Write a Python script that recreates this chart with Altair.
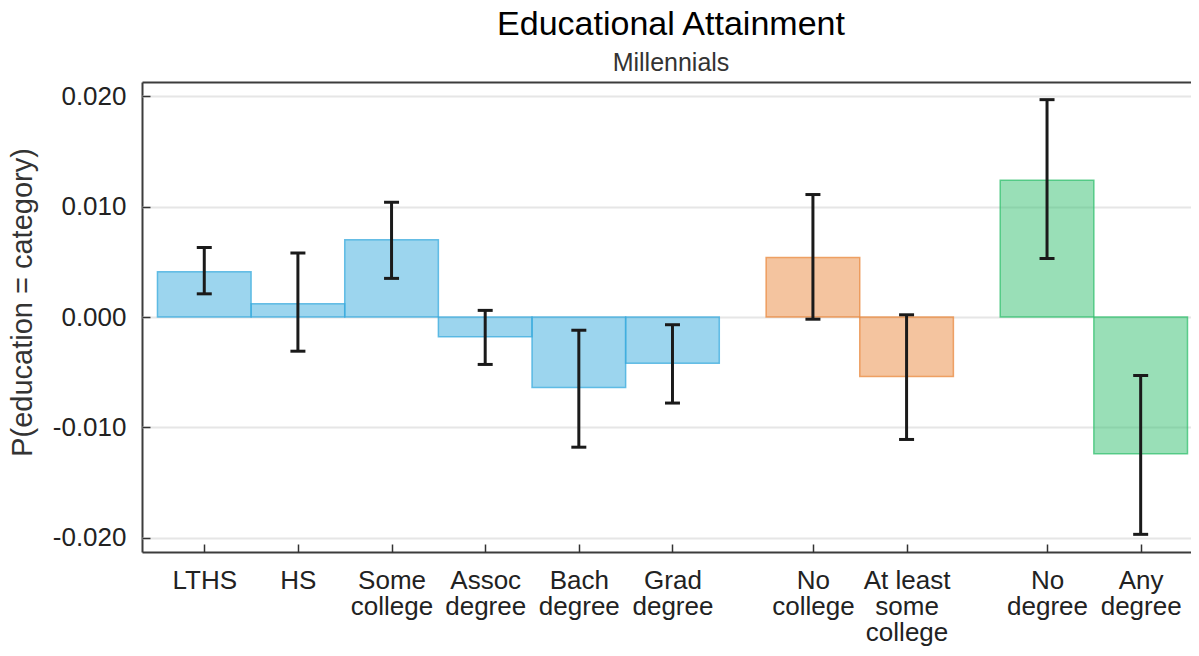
import json
import altair as alt
import pandas as pd

# ---- data ----
categories = ["LTHS", "HS", "Some\ncollege", "Assoc\ndegree", "Bach\ndegree", "Grad\ndegree",
              "No\ncollege", "At least\nsome\ncollege", "No\ndegree", "Any\ndegree"]
groups = ["detail", "detail", "detail", "detail", "detail", "detail",
          "college", "college", "degree", "degree"]
estimates = [0.0041, 0.0012, 0.0070, -0.0018, -0.0064, -0.0042, 0.0054, -0.0054, 0.0124, -0.0124]
lower = [0.0021, -0.0031, 0.0035, -0.0043, -0.0118, -0.0078, -0.0002, -0.0111, 0.0053, -0.0197]
upper = [0.0063, 0.0058, 0.0104, 0.0006, -0.0012, -0.0007, 0.0111, 0.0002, 0.0197, -0.0053]
y_ticks = [-0.02, -0.01, 0.0, 0.01, 0.02]

group_names = ["detail", "college", "degree"]
group_colors = ["#3aabde", "#ea8a3f", "#33c06f"]

# positions: consecutive within a group, half-slot gap between groups
pos = []
p = 0.0
for i, g in enumerate(groups):
    if i > 0:
        p += 1.5 if g != groups[i - 1] else 1.0
    else:
        p = 1.0
    pos.append(p)

df = pd.DataFrame({
    "pos": pos, "label": categories, "group": groups,
    "est": estimates, "lo": lower, "hi": upper,
})

FONT = "Liberation Sans"
FRAME = "#3c3c3c"
PLOT_W, PLOT_H = 1066, 470
X_MIN = 0.335
X_MAX = X_MIN + PLOT_W / 93.64
Y_LIM = 0.0213

label_arrays = json.dumps([c.split("\n") for c in categories])
pos_array = json.dumps(pos)
x_label_expr = (f"indexof({pos_array}, datum.value) < 0 ? '' : "
                f"{label_arrays}[indexof({pos_array}, datum.value)]")

x_scale = alt.Scale(domain=[X_MIN, X_MAX], nice=False, zero=False)
y_scale = alt.Scale(domain=[-Y_LIM, Y_LIM], nice=False, zero=False)

# frame lines (left / top / bottom) come from grid lines at the scale edges
x_edge = f"datum.value < {X_MIN + 0.01}"
y_edge = f"abs(datum.value) > {Y_LIM - 0.0002}"

x_axis = alt.Axis(values=[X_MIN] + pos, labelExpr=x_label_expr, title=None,
                  grid=True, gridWidth=2,
                  gridColor={"condition": {"test": x_edge, "value": FRAME}, "value": "#ffffff"},
                  gridOpacity={"condition": {"test": x_edge, "value": 1}, "value": 0},
                  domain=False, offset=-8, tickSize=8, tickWidth=1.5, tickColor="#333",
                  tickOpacity={"condition": {"test": x_edge, "value": 0}, "value": 1},
                  labelFontSize=26, labelFont=FONT, labelColor="#222", labelPadding=15,
                  labelLineHeight=26, labelAlign="center", labelBaseline="top",
                  labelOverlap=False, labelFlush=False)
y_axis = alt.Axis(values=[-Y_LIM] + y_ticks + [Y_LIM],
                  labelExpr=(f"{y_edge} ? '' : "
                             "(datum.value < 0 ? '-' : '') + format(abs(datum.value), '.3f')"),
                  title="P(education = category)", titleFontSize=29, titleFont=FONT,
                  titleFontWeight="normal", titleColor="#333", titlePadding=15,
                  titleY=220,
                  grid=True, gridWidth=2,
                  gridColor={"condition": {"test": y_edge, "value": FRAME}, "value": "#e6e6e6"},
                  domain=False, offset=-8, tickSize=8, tickWidth=1.5, tickColor="#333",
                  tickOpacity={"condition": {"test": y_edge, "value": 0}, "value": 1},
                  labelFontSize=26, labelFont=FONT, labelColor="#222", labelPadding=16,
                  labelOverlap=False, labelFlush=False)

X = lambda f: alt.X(f, type="quantitative", scale=x_scale, axis=x_axis)
Y = lambda f: alt.Y(f, type="quantitative", scale=y_scale, axis=y_axis)

base = alt.Chart(df)

bars = base.transform_calculate(
    x0="datum.pos - 0.5", x1="datum.pos + 0.5", zero="0"
).mark_rect(fillOpacity=0.5, strokeOpacity=0.75, strokeWidth=1.5).encode(
    x=X("x0"), x2="x1:Q",
    y=Y("est"), y2="zero:Q",
    fill=alt.Fill("group:N", scale=alt.Scale(domain=group_names, range=group_colors), legend=None),
    stroke=alt.Stroke("group:N", scale=alt.Scale(domain=group_names, range=group_colors), legend=None),
)

err = base.mark_rule(color="#1a1a1a", strokeWidth=3).encode(
    x=X("pos"), y=Y("lo"), y2="hi:Q"
)
cap_lo = base.mark_tick(orient="horizontal", color="#1a1a1a", size=15, thickness=3, opacity=1).encode(
    x=X("pos"), y=Y("lo")
)
cap_hi = base.mark_tick(orient="horizontal", color="#1a1a1a", size=15, thickness=3, opacity=1).encode(
    x=X("pos"), y=Y("hi")
)

chart = alt.layer(bars, err, cap_lo, cap_hi).properties(
    width=PLOT_W, height=PLOT_H,
    padding={"left": 134, "top": 74, "right": -17, "bottom": 96},
    autosize=alt.AutoSizeParams(type="none"),
    title=alt.TitleParams(
        "Educational Attainment", subtitle="Millennials",
        font=FONT, fontSize=34, fontWeight="normal", color="#000",
        subtitleFont=FONT, subtitleFontSize=25, subtitleColor="#333",
        anchor="middle", frame="group", offset=-7, subtitlePadding=9, dx=-4,
    ),
).configure_view(stroke=None, strokeWidth=0)

chart.save("out.html", embed_options={"renderer": "svg", "actions": False})
